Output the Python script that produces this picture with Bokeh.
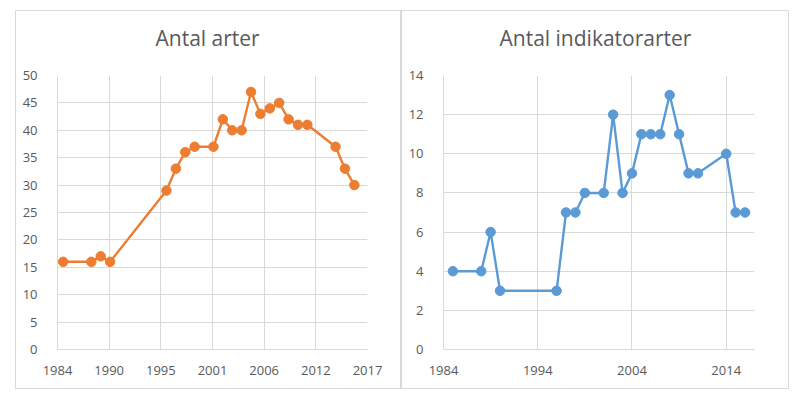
from bokeh.plotting import figure
from bokeh.layouts import row, column
from bokeh.models import Range1d, FixedTicker, Spacer, Title
from bokeh.embed import file_html
from bokeh.resources import INLINE

# ---- data ----
years = [1985, 1988, 1989, 1990, 1996, 1997, 1998, 1999, 2001, 2002, 2003,
         2004, 2005, 2006, 2007, 2008, 2009, 2010, 2011, 2014, 2015, 2016]
antal_arter = [16, 16, 17, 16, 29, 33, 36, 37, 37, 42, 40,
               40, 47, 43, 44, 45, 42, 41, 41, 37, 33, 30]
antal_indikatorarter = [4, 4, 6, 3, 3, 7, 7, 8, 8, 12, 8,
                        9, 11, 11, 11, 13, 11, 9, 9, 10, 7, 7]

left_title = "Antal arter"
right_title = "Antal indikatorarter"

# left x-axis: Excel date axis, major unit 5.5 years starting mid-1984
left_x_ticks = [1984.4, 1989.9, 1995.4, 2000.9, 2006.4, 2011.9, 2017.4]
left_x_labels = ["1984", "1990", "1995", "2001", "2006", "2012", "2017"]
left_y_ticks = [0, 5, 10, 15, 20, 25, 30, 35, 40, 45, 50]

right_x_ticks = [1984, 1994, 2004, 2014]
right_x_labels = ["1984", "1994", "2004", "2014"]
right_y_ticks = [0, 2, 4, 6, 8, 10, 12, 14]

ORANGE = "#ED7D31"
BLUE = "#5B9BD5"
GRID = "#d9d9d9"
TEXT = "#595959"
FONT = "Open Sans"


def make_panel(width, xr, yr, xticks, xlabels, yticks, ys, color, title,
               title_offset, min_left, min_right):
    p = figure(width=width, height=379, output_backend="svg",
               toolbar_location=None, x_range=Range1d(*xr), y_range=Range1d(*yr),
               min_border_left=min_left, min_border_right=min_right,
               min_border_top=64, min_border_bottom=41,
               background_fill_color="white", border_fill_color="white",
               outline_line_color=None)
    p.styles = {"border": "1px solid " + GRID}

    # invisible spacer between the frame and the title
    p.add_layout(Title(text=" ", text_font_size="1px", standoff=16,
                       text_color="white"), "above")
    p.add_layout(Title(text=title, align="left", offset=title_offset,
                       text_font=FONT, text_font_size="21px",
                       text_font_style="normal", text_color=TEXT,
                       standoff=10), "above")

    p.xaxis.ticker = FixedTicker(ticks=xticks)
    p.xaxis.major_label_overrides = {t: l for t, l in zip(xticks, xlabels)}
    p.yaxis.ticker = FixedTicker(ticks=yticks)

    for ax in (p.xaxis[0], p.yaxis[0]):
        ax.axis_line_color = GRID
        ax.axis_line_width = 1
        ax.major_tick_line_color = None
        ax.minor_tick_line_color = None
        ax.major_label_text_font = FONT
        ax.major_label_text_font_size = "13px"
        ax.major_label_text_color = TEXT
    p.xaxis.major_label_standoff = 10
    p.yaxis.major_label_standoff = 14

    p.xgrid.ticker = FixedTicker(ticks=xticks)
    p.ygrid.ticker = FixedTicker(ticks=yticks)
    for g in (p.xgrid[0], p.ygrid[0]):
        g.grid_line_color = GRID
        g.grid_line_width = 1

    p.line(years, ys, line_color=color, line_width=2.4)
    p.scatter(years, ys, size=9.5, fill_color=color, line_color=color)
    return p


p1 = make_panel(386, (1984.4, 2017.4), (0, 50), left_x_ticks, left_x_labels,
                left_y_ticks, antal_arter, ORANGE, left_title, 98, 41, 35)
p2 = make_panel(388, (1984, 2017), (0, 14), right_x_ticks, right_x_labels,
                right_y_ticks, antal_indikatorarter, BLUE, right_title, 56,
                41, 36)

layout = column(Spacer(height=10), row(Spacer(width=15), p1, p2))
open("out.html", "w").write(file_html(layout, INLINE))
